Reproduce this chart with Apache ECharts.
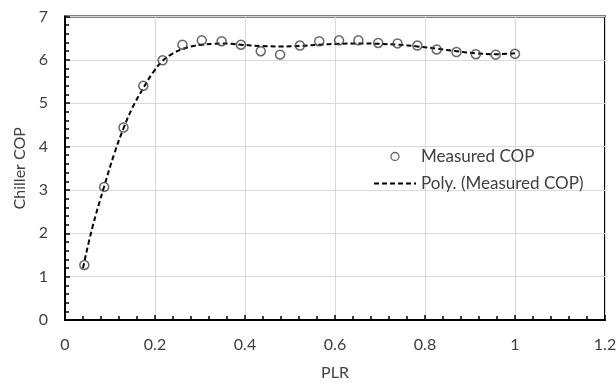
<!DOCTYPE html>
<html>
<head>
<meta charset="utf-8">
<script src="https://cdn.jsdelivr.net/npm/echarts@6/dist/echarts.min.js"></script>
<style>
html,body{margin:0;padding:0;background:#fff;}
#c{width:616px;height:383px;}
</style>
</head>
<body>
<div id="c"></div>
<script>
// Measured data
var plr = [0.043, 0.087, 0.130, 0.174, 0.217, 0.261, 0.304, 0.348, 0.391, 0.435, 0.478, 0.522,
           0.565, 0.609, 0.652, 0.696, 0.739, 0.783, 0.826, 0.870, 0.913, 0.957, 1.000];
var cop = [1.27, 3.07, 4.44, 5.40, 5.99, 6.35, 6.45, 6.43, 6.35, 6.20, 6.12, 6.33,
           6.43, 6.45, 6.45, 6.39, 6.38, 6.33, 6.24, 6.18, 6.13, 6.12, 6.14];
// Polynomial trend line
var trendX = [0.040, 0.060, 0.087, 0.110, 0.130, 0.150, 0.174, 0.195, 0.217, 0.240, 0.261, 0.280,
              0.304, 0.330, 0.348, 0.370, 0.391, 0.435, 0.478, 0.522, 0.565, 0.609, 0.652, 0.696,
              0.739, 0.783, 0.826, 0.870, 0.913, 0.957, 1.000];
var trendY = [1.20, 2.10, 3.08, 3.85, 4.42, 4.90, 5.35, 5.70, 5.98, 6.15, 6.25, 6.31,
              6.35, 6.37, 6.38, 6.37, 6.35, 6.32, 6.31, 6.32, 6.35, 6.37, 6.38, 6.37,
              6.35, 6.31, 6.26, 6.20, 6.15, 6.13, 6.15];
var xTicks = [0, 0.2, 0.4, 0.6, 0.8, 1, 1.2];
var yTicks = [0, 1, 2, 3, 4, 5, 6, 7];

var font = 'Lato, "Open Sans", sans-serif';
var textColor = '#404040';

var chart = echarts.init(document.getElementById('c'), null, {renderer: 'canvas'});
chart.setOption({
  animation: false,
  backgroundColor: '#fff',
  grid: {left: 65, right: 11, top: 16.5, bottom: 63, show: true, borderColor: '#000', borderWidth: 2,
         backgroundColor: 'transparent', containLabel: false, outerBoundsMode: 'none'},
  xAxis: {
    type: 'value', min: xTicks[0], max: xTicks[xTicks.length - 1], interval: 0.2,
    name: 'PLR', nameLocation: 'middle', nameGap: 45,
    nameTextStyle: {color: textColor, fontFamily: font, fontSize: 16},
    axisLine: {show: true, onZero: false, lineStyle: {color: '#000', width: 2}},
    axisTick: {show: true, inside: true, length: 5, lineStyle: {color: '#000', width: 1.5}},
    minorTick: {show: true, splitNumber: 5, length: 4, lineStyle: {color: '#000', width: 1.5}},
    splitLine: {show: true, lineStyle: {color: '#d9d9d9', width: 1}},
    axisLabel: {color: textColor, fontFamily: font, fontSize: 16, margin: 17, hideOverlap: false,
      formatter: function (v) { return String(Math.round(v * 10) / 10); }}
  },
  yAxis: {
    type: 'value', min: yTicks[0], max: yTicks[yTicks.length - 1], interval: 1,
    name: 'Chiller COP', nameLocation: 'middle', nameGap: 31, nameRotate: 90,
    nameTextStyle: {color: textColor, fontFamily: font, fontSize: 16},
    axisLine: {show: true, onZero: false, lineStyle: {color: '#000', width: 2}},
    axisTick: {show: true, inside: true, length: 5, lineStyle: {color: '#000', width: 1.5}},
    minorTick: {show: true, splitNumber: 5, length: 4, lineStyle: {color: '#000', width: 1.5}},
    splitLine: {show: true, lineStyle: {color: '#d9d9d9', width: 1}},
    axisLabel: {color: textColor, fontFamily: font, fontSize: 16, margin: 17}
  },
  legend: {
    orient: 'vertical', left: 373, top: 148, padding: 0, itemWidth: 42, itemHeight: 8, itemGap: 10,
    textStyle: {color: textColor, fontFamily: font, fontSize: 17},
    data: [
      {name: 'Measured COP', icon: 'circle', itemStyle: {color: 'transparent', borderColor: '#404040', borderWidth: 1.3}},
      {name: 'Poly. (Measured COP)', itemStyle: {color: 'transparent', borderColor: 'transparent', borderWidth: 0, opacity: 0}}
    ]
  },
  series: [
    {
      name: 'Poly. (Measured COP)', type: 'line', smooth: 0.4, showSymbol: false, symbol: 'none',
      data: trendX.map(function (x, i) { return [x, trendY[i]]; }),
      lineStyle: {color: '#000', width: 2, type: [5, 3]}, itemStyle: {color: '#000'}, z: 2
    },
    {
      name: 'Measured COP', type: 'scatter', symbol: 'circle', symbolSize: 9,
      data: plr.map(function (x, i) { return [x, cop[i]]; }),
      itemStyle: {color: 'transparent', borderColor: '#404040', borderWidth: 1.5}, z: 3
    }
  ]
});
</script>
</body>
</html>
